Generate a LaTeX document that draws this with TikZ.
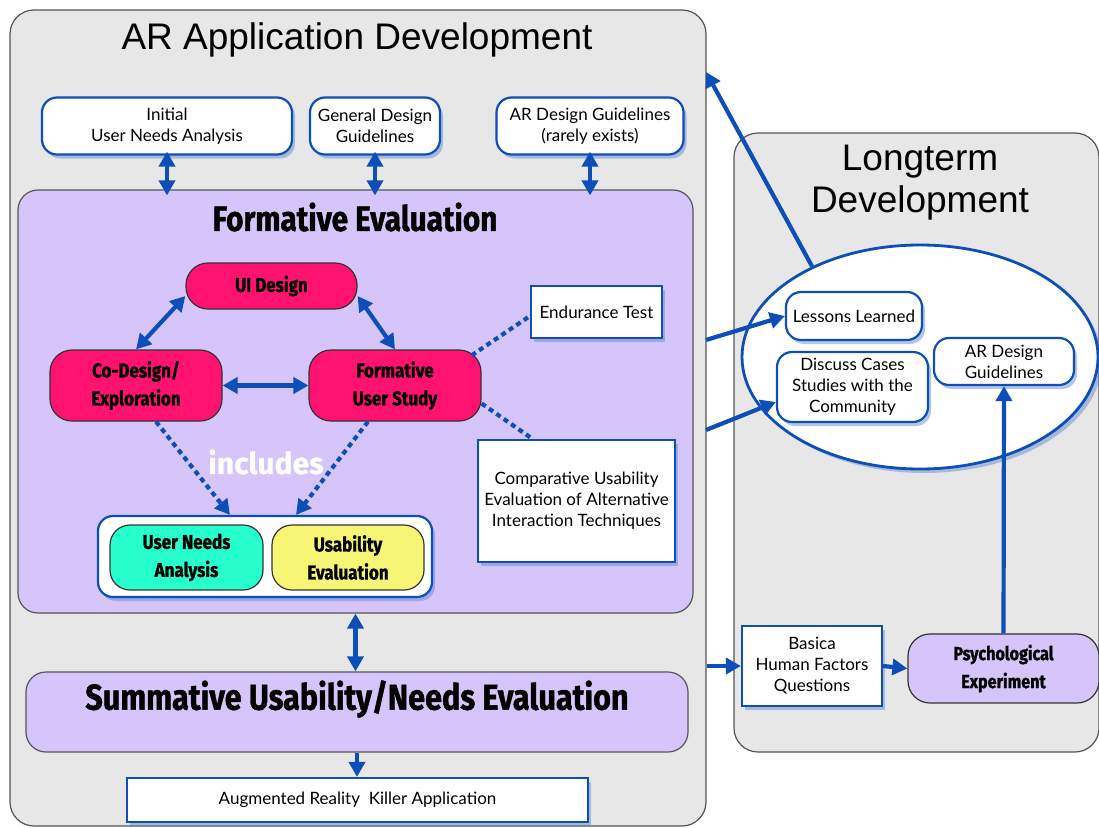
\documentclass[tikz,border=0pt]{standalone}
\usepackage{fontspec}
\setmainfont{Lato}
\newfontfamily\helv{Liberation Sans}
\newfontfamily\futura[FakeStretch=0.85,BoldFeatures={FakeBold=1.2}]{Fira Sans}
\newfontfamily\roundbold[BoldFeatures={FakeBold=0.8}]{Fira Sans}
\usetikzlibrary{shadows,arrows.meta,shapes.geometric}
\definecolor{arblue}{RGB}{14,78,184}
\definecolor{panelgray}{RGB}{231,231,231}
\definecolor{framegray}{RGB}{85,85,85}
\definecolor{lavender}{RGB}{213,197,251}
\definecolor{hotpink}{RGB}{255,18,112}
\definecolor{aqua}{RGB}{40,255,206}
\definecolor{lemon}{RGB}{246,246,116}
\begin{document}
\begin{tikzpicture}[x=1pt,y=-1pt,>={Triangle[length=15pt,width=16pt]},
  panel/.style={draw=framegray,line width=1.2pt,fill=panelgray,rounded corners=24pt,inner sep=0pt},
  violetpanel/.style={draw=framegray,line width=1.2pt,fill=lavender,rounded corners=20pt,inner sep=0pt},
  whitebox/.style={draw=arblue,line width=2.2pt,fill=white,align=center,inner sep=2pt,
    drop shadow={fill=arblue!70,opacity=.45,shadow xshift=3pt,shadow yshift=-4pt},
    font=\fontsize{17}{21}\selectfont},
  roundbox/.style={whitebox,rounded corners=15pt},
  pill/.style={draw=black!80,line width=1.2pt,rounded corners=22pt,align=center,inner sep=2pt,
    font=\futura\bfseries\fontsize{20}{28}\selectfont},
  link/.style={arblue,line width=4.2pt,->},
  bilink/.style={arblue,line width=4.2pt,<->},
  dotlink/.style={arblue,line width=4.2pt,dash pattern=on 5pt off 4pt}
]
\useasboundingbox (0,0) rectangle (1099,827);
% panels
\node[panel,minimum width=696pt,minimum height=816pt] (arpanel) at (358,418) {};
\node[panel,minimum width=365pt,minimum height=619pt] (ltpanel) at (916.5,442.5) {};
\node[font=\helv\fontsize{37}{42}\selectfont] (artitle) at (357,40) {AR Application Development};
\node[font=\helv\fontsize{37}{42}\selectfont,align=center] (lttitle) at (920,183) {Longterm\\Development};
% top row
\node[roundbox,minimum width=250pt,minimum height=57pt] (initial) at (167,126) {Initial\\User Needs Analysis};
\node[roundbox,minimum width=130pt,minimum height=57pt] (general) at (375,126) {General Design\\Guidelines};
\node[roundbox,minimum width=187pt,minimum height=57pt] (arguide) at (590,126) {AR Design Guidelines\\(rarely exists)};
% formative evaluation
\node[violetpanel,minimum width=675pt,minimum height=423pt] (formative) at (355.5,401.5) {};
\node[font=\futura\bfseries\fontsize{35}{40}\selectfont] (formtitle) at (355,217) {Formative Evaluation};
\node[pill,fill=hotpink,minimum width=171pt,minimum height=46pt] (uidesign) at (271.5,286) {UI Design};
\node[pill,fill=hotpink,minimum width=172pt,minimum height=71pt] (codesign) at (136,385.5) {Co-Design/\\Exploration};
\node[pill,fill=hotpink,minimum width=172pt,minimum height=71pt] (fstudy) at (395,385.5) {Formative\\User Study};
\node[whitebox,minimum width=131pt,minimum height=52pt] (endurance) at (596.5,312) {Endurance Test};
\node[whitebox,minimum width=197pt,minimum height=122pt] (compare) at (576.5,501) {Comparative Usability\\Evaluation of Alternative\\Interaction Techniques};
\node[roundbox,minimum width=334pt,minimum height=81pt] (includes) at (265,556.5) {};
\node[pill,fill=aqua,minimum width=153pt,minimum height=65pt,rounded corners=20pt] (needs) at (186.5,557.5) {User Needs\\Analysis};
\node[pill,fill=lemon,minimum width=152pt,minimum height=65pt,rounded corners=20pt] (usability) at (348,557.5) {Usability\\Evaluation};
\node[text=white,font=\roundbold\bfseries\fontsize{30}{34}\selectfont] (inclabel) at (266,462) {includes};
% summative and result
\node[violetpanel,minimum width=662pt,minimum height=80pt] (summative) at (357,712) {};
\node[font=\futura\bfseries\fontsize{36}{40}\selectfont] (sumtitle) at (357,699) {Summative Usability/Needs Evaluation};
\node[whitebox,minimum width=461pt,minimum height=44pt] (killer) at (357.5,800) {Augmented Reality\ \ Killer Application};
% longterm development
\node[ellipse,draw=arblue,line width=2.8pt,fill=white,minimum width=356pt,minimum height=224pt,
  drop shadow={fill=arblue!70,opacity=.45,shadow xshift=4pt,shadow yshift=-4pt}] (ltellipse) at (920,357) {};
\node[roundbox,minimum width=136pt,minimum height=48pt] (lessons) at (854,316) {Lessons Learned};
\node[roundbox,minimum width=151pt,minimum height=70pt] (discuss) at (852.5,387) {Discuss Cases\\Studies with the\\Community};
\node[roundbox,minimum width=140pt,minimum height=47pt] (arguide2) at (1004,361.5) {AR Design\\Guidelines};
\node[whitebox,minimum width=140pt,minimum height=80pt] (basica) at (812,666) {Basica\\Human Factors\\Questions};
\node[pill,fill=lavender,minimum width=191pt,minimum height=69pt,font=\futura\bfseries\fontsize{19}{28}\selectfont] (psych) at (1003.5,668.5) {Psychological\\Experiment};
\coordinate (arexit) at (706,72);
\coordinate (lessonsin) at (706,340);
\coordinate (discussin) at (706,430);
% connectors
\foreach \b in {initial,general,arguide}
  \draw[bilink] ([yshift=4pt]\b.south) -- ([yshift=-6pt]\b.south |- formative.north);
\draw[bilink] ([yshift=-10pt]uidesign.west) -- (codesign.north);
\draw[bilink] ([yshift=-10pt]uidesign.east) -- (fstudy.north);
\draw[bilink] (codesign.east) -- (fstudy.west);
\draw[dotlink] ([xshift=-10pt,yshift=-6pt]fstudy.north east) -- ([yshift=-4pt]endurance.west);
\draw[dotlink] ([yshift=-18pt]fstudy.east) -- ([xshift=-44pt]compare.north);
\draw[dotlink,->] ([xshift=20pt]codesign.south) -- ([xshift=-35pt]includes.north);
\draw[dotlink,->] ([xshift=-27pt]fstudy.south) -- ([xshift=31pt]includes.north);
\draw[bilink] (formative.south) -- (formative.south |- summative.north);
\draw[link] (summative.south) -- (summative.south |- killer.north);
\draw[link] (ltellipse.140) -- (arexit);
\draw[link] (lessonsin) -- (lessons.west);
\draw[link] (discussin) -- ([yshift=-15pt]discuss.west);
\draw[link] (basica.west -| arpanel.east) -- (basica.west);
\draw[link] (basica.east) -- (psych.west);
\draw[link] (psych.north) -- (arguide2.south);
\end{tikzpicture}
\end{document}
